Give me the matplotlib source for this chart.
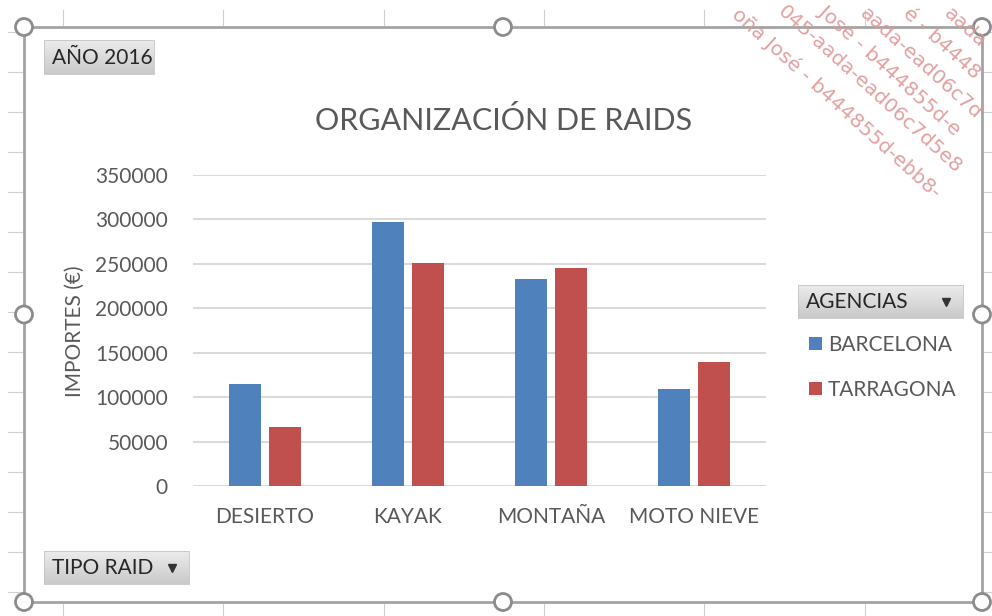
import numpy as np
import matplotlib
matplotlib.use("Agg")
import matplotlib.pyplot as plt
from matplotlib.patches import Rectangle, Circle
from matplotlib.colors import LinearSegmentedColormap

plt.rcParams['font.family'] = ['Lato', 'DejaVu Sans']

categories = ['DESIERTO', 'KAYAK', 'MONTAÑA', 'MOTO NIEVE']
series_names = ['BARCELONA', 'TARRAGONA']
barcelona = [115000, 297000, 233000, 109000]
tarragona = [66000, 251000, 245000, 140000]
y_ticks = [0, 50000, 100000, 150000, 200000, 250000, 300000, 350000]

title = 'ORGANIZACIÓN DE RAIDS'
y_label = 'IMPORTES (€)'
filter_label = 'AÑO 2016'
legend_title = 'AGENCIAS'
axis_field = 'TIPO RAID'

blue = '#4F81BD'
red = '#C0504D'
text_grey = '#595959'

W, H = 992, 616
fig = plt.figure(figsize=(W / 100, H / 100), dpi=100)

# sheet background in pixel coordinates
bg = fig.add_axes([0, 0, 1, 1], zorder=0)
bg.set_xlim(0, W)
bg.set_ylim(H, 0)
bg.axis('off')

for cx in [63, 223, 384, 544, 704, 865]:
    bg.plot([cx, cx], [10, H], color='#d0d0d0', lw=0.8, zorder=1)
for ry in np.arange(31.5, H, 40):
    bg.plot([8, W], [ry, ry], color='#d0d0d0', lw=0.8, zorder=1)

# chart area with selection frame
x0, y0, x1, y1 = 24, 27, 982, 602
bg.add_patch(Rectangle((x0, y0), x1 - x0, y1 - y0, facecolor='white',
                       edgecolor='#a3a3a3', lw=2.0, zorder=2))
for hx, hy in [(x0, y0), ((x0 + x1) / 2, y0), (x1, y0), (x0, (y0 + y1) / 2),
               (x1, (y0 + y1) / 2), (x0, y1), ((x0 + x1) / 2, y1), (x1, y1)]:
    bg.add_patch(Circle((hx, hy), 8.5, facecolor='white', edgecolor='#8c8c8c',
                        lw=2.0, zorder=3))

# pivot field buttons
btn_cmap = LinearSegmentedColormap.from_list('btn', ['#ececec', '#c9c9c9'])
grad = np.linspace(0, 1, 50).reshape(-1, 1)


def field_button(bx0, by0, bx1, by1, label, arrow=False):
    bg.imshow(grad, cmap=btn_cmap, aspect='auto', extent=(bx0, bx1, by1, by0),
              zorder=4)
    bg.add_patch(Rectangle((bx0, by0), bx1 - bx0, by1 - by0, facecolor='none',
                           edgecolor='#c4c4c4', lw=0.6, zorder=5))
    bg.text(bx0 + 8, (by0 + by1) / 2 + 1, label, fontsize=15, color='#262626',
            ha='left', va='center', zorder=6)
    if arrow:
        bg.plot(bx1 - 17, (by0 + by1) / 2, marker='v', markersize=5.5,
                color='#333333', zorder=6)


field_button(44, 40, 154, 74, filter_label)
field_button(798, 285, 963, 318, legend_title, arrow=True)
field_button(44, 551, 189, 584, axis_field, arrow=True)
bg.set_xlim(0, W)
bg.set_ylim(H, 0)

# clustered columns
ax = fig.add_axes([193 / W, (H - 486) / H, (766 - 193) / W, (486 - 175) / H],
                  zorder=1)
ax.set_facecolor('none')
x = np.arange(len(categories))
width = 0.223
off = 0.14
b1 = ax.bar(x - off, barcelona, width, color=blue, label=series_names[0], zorder=3)
b2 = ax.bar(x + off, tarragona, width, color=red, label=series_names[1], zorder=3)

ax.set_xlim(-0.5, len(categories) - 0.5)
ax.set_ylim(0, 350000)
ax.set_yticks(y_ticks)
ax.set_yticklabels([str(v) for v in y_ticks])
ax.set_xticks(x)
ax.set_xticklabels(categories)
ax.yaxis.grid(True, color='#d9d9d9', lw=1.4)
ax.set_axisbelow(True)
for s in ax.spines.values():
    s.set_visible(False)
ax.tick_params(axis='both', length=0, labelsize=15, labelcolor=text_grey)
ax.tick_params(axis='y', pad=18)
ax.tick_params(axis='x', pad=15)

fig.text(504 / W, 1 - 120 / H, title, ha='center', va='center', fontsize=22,
         color=text_grey)
fig.text(75 / W, 1 - 331 / H, y_label, rotation=90, ha='center', va='center',
         fontsize=15, color=text_grey)

leg = ax.legend(handles=[b1, b2], loc='upper left',
                bbox_to_anchor=(809 / W, 1 - 335 / H),
                bbox_transform=fig.transFigure, frameon=False, fontsize=15,
                handlelength=0.6, handleheight=0.6, handletextpad=0.3,
                labelspacing=1.2, borderpad=0, borderaxespad=0)
for t in leg.get_texts():
    t.set_color(text_grey)

# watermark
wm = fig.add_axes([0, 0, 1, 1], zorder=5)
wm.set_xlim(0, W)
wm.set_ylim(H, 0)
wm.axis('off')
wm_lines = [
    (735, 12, 'oña José - b444855d-ebb8-'),
    (780, 9, '045-aada-ead06c7d5e8'),
    (822, 9, 'José - b444855d-e'),
    (862, 11, 'aada-ead06c7d'),
    (906, 11, 'é - b4448'),
    (946, 11, 'aada'),
]
for wx, wy, s in wm_lines:
    wm.text(wx, wy, s, rotation=-42, rotation_mode='anchor', ha='left',
            va='center', fontsize=14.5, color='#df9797', alpha=0.9,
            family='DejaVu Sans', clip_on=True)

fig.savefig('out.png', dpi=100)
